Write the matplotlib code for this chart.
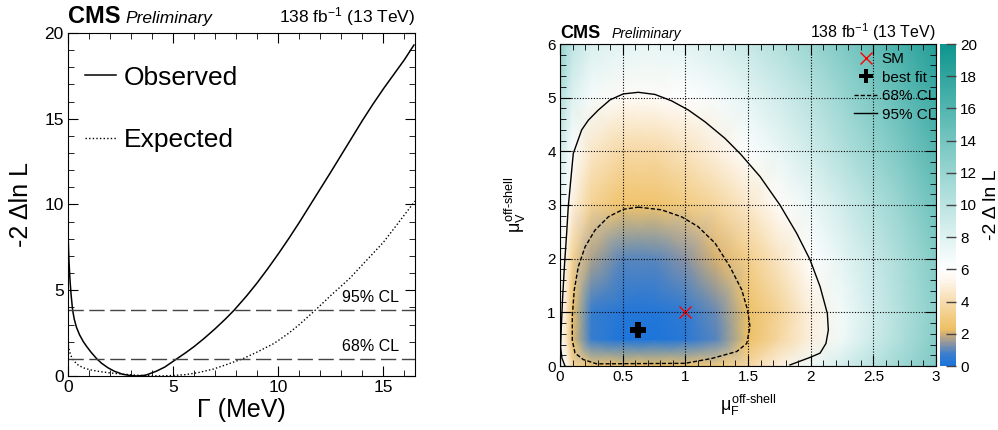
import numpy as np
import matplotlib
matplotlib.use("Agg")
import matplotlib.pyplot as plt
from matplotlib.colors import LinearSegmentedColormap
from matplotlib.lines import Line2D
from matplotlib.ticker import MultipleLocator, FormatStrFormatter

plt.rcParams["font.family"] = ["Liberation Sans", "DejaVu Sans"]
plt.rcParams["mathtext.fontset"] = "custom"
plt.rcParams["mathtext.rm"] = "Liberation Sans"
plt.rcParams["mathtext.it"] = "Liberation Sans"
plt.rcParams["mathtext.bf"] = "Liberation Sans:bold"

# ---- left panel: 1D scan of the width ----
gamma_obs = [0, 0.02, 0.05, 0.1, 0.15, 0.22, 0.3, 0.4, 0.55, 0.73, 0.9, 1.1, 1.37, 1.6,
             1.9, 2.2, 2.6, 3.0, 3.3, 3.7, 4.2, 4.6, 5.17, 5.6, 6.0, 6.5, 7.0, 7.5, 7.9,
             8.5, 9.0, 9.5, 10.0, 10.5, 11.0, 11.5, 12.0, 12.5, 13.0, 13.5, 14.0, 14.5,
             15.0, 15.5, 16.0, 16.45]
nll_obs = [8.6, 7.6, 6.6, 5.5, 4.7, 3.84, 3.3, 2.85, 2.4, 2.0, 1.7, 1.38, 1.0, 0.74,
           0.48, 0.28, 0.1, 0.02, 0.0, 0.05, 0.28, 0.52, 1.0, 1.36, 1.72, 2.22, 2.76, 3.34, 3.84,
           4.68, 5.44, 6.26, 7.12, 8.02, 8.96, 9.94, 10.92, 11.9, 12.9, 13.9, 14.9, 15.85,
           16.75, 17.6, 18.45, 19.3]

gamma_exp = [0, 0.03, 0.08, 0.17, 0.3, 0.5, 0.75, 1.05, 1.5, 2.0, 2.5, 3.0, 3.5, 4.0, 4.5,
             5.0, 5.6, 6.2, 6.9, 7.5, 8.3, 9.0, 9.8, 10.5, 11.0, 11.76, 12.5, 13.4, 14.2,
             15.0, 15.5, 16.0, 16.5]
nll_exp = [2.0, 1.7, 1.4, 1.1, 0.85, 0.62, 0.47, 0.36, 0.26, 0.18, 0.12, 0.07, 0.03, 0.01, 0.01,
           0.03, 0.08, 0.2, 0.4, 0.65, 1.0, 1.4, 1.9, 2.5, 3.0, 3.84, 4.7, 5.7, 6.75,
           7.8, 8.6, 9.4, 10.2]

cl_levels = [1.0, 3.84]
cl_labels = ["68% CL", "95% CL"]

# ---- right panel: 2D scan (mu_F, mu_V) ----
mu_f = [0, 0.05, 0.1, 0.25, 0.5, 0.75, 1.0, 1.25, 1.5, 1.75, 2.0, 2.25, 2.5, 2.75, 3.0]
mu_v = [0, 0.5, 1, 2, 3, 4, 5, 6]
nll_2d = [
    [7.0, 5.6, 3.6, 2.6, 2.4, 2.35, 2.45, 2.9, 3.7, 5.0, 7.0, 8.6, 10.2, 11.8, 13.4],
    [6.5, 4.5, 2.2, 0.7, 0.1, 0.08, 0.35, 1.0, 2.3, 3.7, 5.0, 7.0, 9.0, 11.0, 13.0],
    [6.2, 4.6, 2.3, 0.7, 0.25, 0.2, 0.5, 1.1, 2.3, 3.5, 5.0, 6.8, 8.8, 10.8, 12.8],
    [6.4, 5.0, 3.4, 1.7, 1.0, 0.95, 1.4, 2.1, 3.2, 4.5, 6.0, 7.6, 9.3, 11.2, 13.2],
    [7.4, 6.2, 5.0, 3.4, 2.45, 2.45, 2.9, 3.6, 4.6, 5.8, 7.2, 8.8, 10.5, 12.3, 14.3],
    [9.0, 7.6, 6.2, 4.6, 3.8, 3.8, 4.3, 5.0, 6.2, 7.4, 8.9, 10.5, 12.1, 13.9, 15.8],
    [10.6, 9.2, 8.0, 6.6, 5.7, 5.75, 5.95, 6.6, 7.6, 8.8, 10.2, 11.8, 13.5, 15.3, 17.2],
    [12.4, 11.0, 9.8, 8.3, 7.6, 7.5, 7.8, 8.4, 9.3, 10.5, 11.8, 13.3, 15.0, 16.8, 18.8],
]

# contour lines
c68_f = [0.625, 0.81, 0.97, 1.10, 1.237, 1.356, 1.45, 1.497, 1.516, 1.49, 1.41, 1.21,
         0.998, 0.293, 0.186, 0.12, 0.098, 0.098, 0.114, 0.146, 0.2, 0.279, 0.386, 0.505, 0.625]
c68_v = [2.96, 2.91, 2.78, 2.60, 2.29, 1.85, 1.42, 1.04, 0.73, 0.42, 0.27, 0.14,
         0.05, 0.04, 0.12, 0.24, 0.48, 0.92, 1.42, 1.85, 2.22, 2.53, 2.78, 2.92, 2.96]

c95_f = [0.04, 0.015, 0.005, 0.01, 0.02, 0.035, 0.053, 0.066, 0.106, 0.173, 0.226, 0.306,
         0.40, 0.505, 0.625, 0.758, 0.891, 1.024, 1.157, 1.317, 1.44, 1.596, 1.755,
         1.889, 1.995, 2.075, 2.133, 2.141, 2.122, 2.075, 1.995, 1.835]
c95_v = [0.0, 0.15, 0.35, 0.7, 1.23, 1.85, 2.47, 2.97, 3.96, 4.40, 4.58, 4.77,
         4.96, 5.07, 5.10, 5.06, 4.94, 4.77, 4.55, 4.24, 3.95, 3.53, 3.0,
         2.47, 1.98, 1.48, 0.98, 0.67, 0.42, 0.24, 0.16, 0.02]

sm_point = (1.0, 1.0)
best_fit = (0.62, 0.68)

fig = plt.figure(figsize=(9.98, 4.30), dpi=100)

# ================= left =================
ax1 = fig.add_axes([68 / 998, 54 / 430, 347 / 998, 343 / 430])
ax1.plot(gamma_obs, nll_obs, color="black", lw=1.1, label="Observed")
ax1.plot(gamma_exp, nll_exp, color="black", lw=1.0, ls=(0, (1, 1.6)), label="Expected")
for lvl, lab in zip(cl_levels, cl_labels):
    ax1.axhline(lvl, color="#444444", lw=1.0, ls=(0, (11, 4)))
    ax1.text(15.75, lvl + 0.3, lab, ha="right", va="bottom", fontsize=11.5)

ax1.set_xlim(0, 16.5)
ax1.set_ylim(0, 20)
ax1.xaxis.set_major_locator(MultipleLocator(5))
ax1.xaxis.set_minor_locator(MultipleLocator(1))
ax1.yaxis.set_major_locator(MultipleLocator(5))
ax1.yaxis.set_minor_locator(MultipleLocator(1))
ax1.tick_params(which="both", direction="in", top=True, right=True, labelsize=12.5, pad=3)
ax1.tick_params(which="major", length=7)
ax1.tick_params(which="minor", length=4)
ax1.set_xlabel("Γ (MeV)", fontsize=18, labelpad=2)
ax1.set_ylabel("-2 Δln L", fontsize=18, labelpad=8)
ax1.legend(loc="upper left", bbox_to_anchor=(0.05, 0.905), frameon=False, fontsize=19,
           handlelength=1.15, handletextpad=0.3, labelspacing=1.45, borderpad=0,
           borderaxespad=0)

ax1.text(0, 1.03, "CMS", transform=ax1.transAxes, fontsize=17, fontweight="bold", va="baseline")
ax1.text(0.165, 1.03, "Preliminary", transform=ax1.transAxes, fontsize=12.5,
         style="italic", va="baseline")
ax1.text(1, 1.03, r"138 fb$^{-1}$ (13 TeV)", transform=ax1.transAxes, fontsize=12.5,
         ha="right", va="baseline")

# ================= right =================
cmap = LinearSegmentedColormap.from_list("nll", [
    (0.0, "#1b74dc"), (0.035, "#3a7ecd"), (0.065, "#8592a6"), (0.1, "#d4b072"),
    (0.115, "#efc166"), (0.2, "#f7dcae"), (0.26, "#fdf4e8"), (0.3, "#ffffff"),
    (0.4, "#def2f1"), (0.6, "#98d5d1"), (1.0, "#0e958d")])

ax2 = fig.add_axes([560 / 998, 64 / 430, 376 / 998, 322 / 430])
mesh = ax2.pcolormesh(mu_f, mu_v, np.array(nll_2d), cmap=cmap, vmin=0, vmax=20,
                      shading="gouraud", rasterized=True)
ax2.plot(c68_f, c68_v, color="black", lw=1.0, ls=(0, (3, 1.5)))
ax2.plot(c95_f, c95_v, color="black", lw=1.0)
ax2.plot(*sm_point, marker="x", color="red", ms=8, mew=1.0, ls="none")
ax2.plot(*best_fit, marker="P", color="black", ms=11, mew=0, ls="none")

ax2.set_xlim(0, 3)
ax2.set_ylim(0, 6)
ax2.xaxis.set_major_locator(MultipleLocator(0.5))
ax2.xaxis.set_minor_locator(MultipleLocator(0.1))
ax2.yaxis.set_major_locator(MultipleLocator(1))
ax2.yaxis.set_minor_locator(MultipleLocator(0.2))
ax2.xaxis.set_major_formatter(FormatStrFormatter("%g"))
ax2.yaxis.set_major_formatter(FormatStrFormatter("%g"))
ax2.grid(True, which="major", color="black", ls=(0, (1, 1.5)), lw=0.8)
ax2.set_axisbelow(False)
ax2.tick_params(which="both", direction="in", top=True, right=True, labelsize=11, pad=3)
ax2.tick_params(which="major", length=8)
ax2.tick_params(which="minor", length=4)
ax2.set_xlabel(r"$\mu_{\text{F}}^{\text{off-shell}}$", fontsize=13, labelpad=6)
ax2.set_ylabel(r"$\mu_{\text{V}}^{\text{off-shell}}$", fontsize=13, labelpad=14)

handles = [
    Line2D([], [], marker="x", color="red", ms=8, mew=1.0, ls="none"),
    Line2D([], [], marker="P", color="black", ms=10, mew=0, ls="none"),
    Line2D([], [], color="black", lw=1.0, ls=(0, (3, 1.5))),
    Line2D([], [], color="black", lw=1.0),
]
ax2.legend(handles, ["SM", "best fit", "68% CL", "95% CL"], loc="upper right",
           bbox_to_anchor=(1.0, 0.975), frameon=False, fontsize=11, handlelength=1.5,
           handletextpad=0.3, labelspacing=0.3, borderpad=0, borderaxespad=0)

ax2.text(0, 1.019, "CMS", transform=ax2.transAxes, fontsize=13, fontweight="bold", va="baseline")
ax2.text(0.137, 1.019, "Preliminary", transform=ax2.transAxes, fontsize=10,
         style="italic", va="baseline")
ax2.text(1, 1.019, r"138 fb$^{-1}$ (13 TeV)", transform=ax2.transAxes, fontsize=11.5,
         ha="right", va="baseline")

cax = fig.add_axes([940 / 998, 64 / 430, 16 / 998, 322 / 430])
cbar = fig.colorbar(mesh, cax=cax)
cbar.outline.set_visible(False)
cbar.set_ticks(np.arange(0, 21, 2))
cax.tick_params(direction="in", length=7, width=1, color="#444444", labelsize=11, pad=3)
cbar.set_label("-2 Δ ln L", fontsize=14, labelpad=4)

fig.savefig("out.png", dpi=100)
